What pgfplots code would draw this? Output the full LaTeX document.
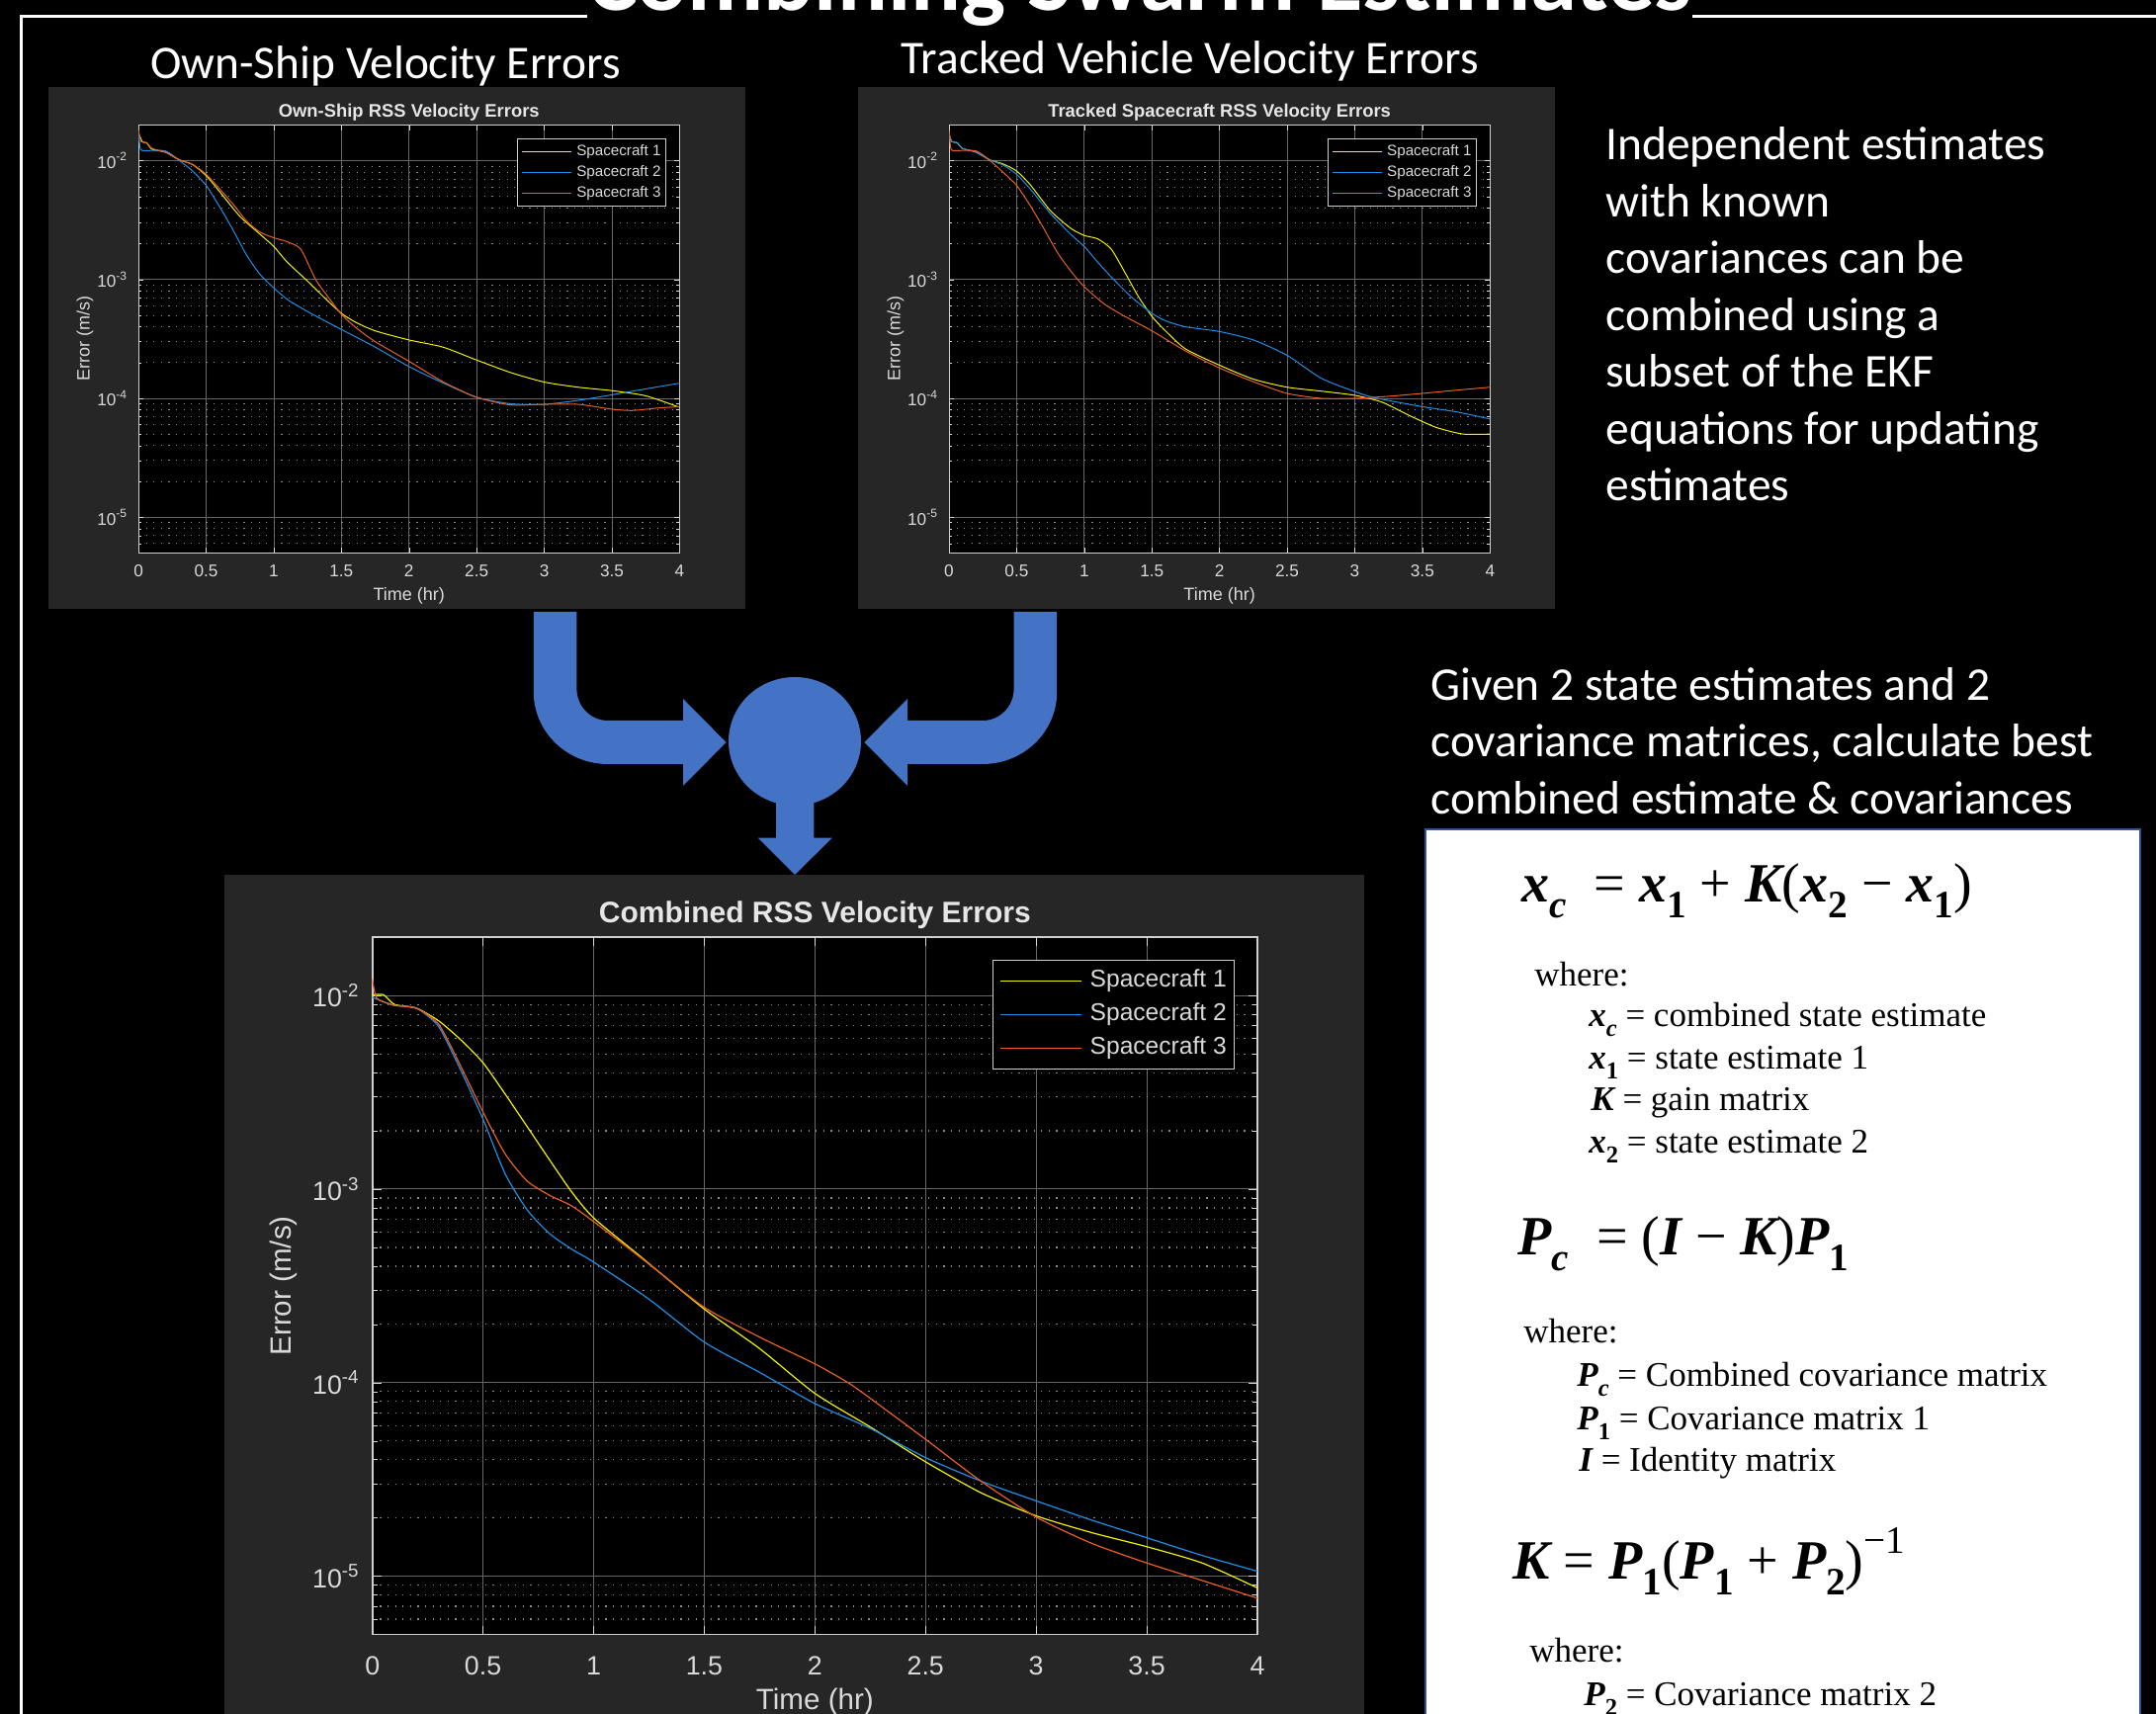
\documentclass[border=0pt]{standalone}
\usepackage{fontspec}
\setmainfont{Carlito}
\newfontfamily\arial{Liberation Sans}
\newfontfamily\tms{Liberation Serif}
\usepackage{graphicx}
\usepackage{pgfplots}
\pgfplotsset{compat=1.18}
\definecolor{panel}{HTML}{262626}
\definecolor{arrowblue}{HTML}{4472C4}
\definecolor{boxblue}{HTML}{2F5597}
\definecolor{scy}{HTML}{F2F200}
\definecolor{scb}{HTML}{1F8FE5}
\definecolor{sco}{HTML}{EB5F23}
\definecolor{gridcol}{HTML}{666666}
\definecolor{mgridcol}{HTML}{8C8C8C}
\definecolor{axcol}{HTML}{CFCFCF}
\definecolor{lblcol}{HTML}{D9D9D9}
\definecolor{ttlcol}{HTML}{E6E6E6}
\newcommand\fsz[1]{\fontsize{#1}{#1}\selectfont}
\newcommand\bi[1]{{\bfseries\itshape #1}}
\newcommand\bsub[1]{\raisebox{-0.28em}{\scalebox{0.7}{#1}}}
\newcommand\bsup[1]{\raisebox{0.48em}{\scalebox{0.7}{#1}}}
\pgfplotsset{
  mlbase/.style={
    scale only axis, xmin=0, xmax=4, ymin=5e-6, ymax=2e-2,
    axis background/.style={fill=black},
    xtick={0,0.5,1,1.5,2,2.5,3,3.5,4},
    xticklabels={0,0.5,1,1.5,2,2.5,3,3.5,4},
    ytick={1e-5,1e-4,1e-3,1e-2},
    yticklabels={10\textsuperscript{-5},10\textsuperscript{-4},10\textsuperscript{-3},10\textsuperscript{-2}},
    minor ytick={6e-6,7e-6,8e-6,9e-6,2e-5,3e-5,4e-5,5e-5,6e-5,7e-5,8e-5,9e-5,2e-4,3e-4,4e-4,5e-4,6e-4,7e-4,8e-4,9e-4,2e-3,3e-3,4e-3,5e-3,6e-3,7e-3,8e-3,9e-3},
    xmajorgrids, ymajorgrids, yminorgrids,
    major grid style={draw=gridcol, solid},
    minor grid style={draw=mgridcol, dash pattern=on 0.6pt off 3.2pt},
    tick align=inside,
    tick style={draw=lblcol},
    axis line style={draw=axcol},
    xticklabel pos=bottom, yticklabel pos=left,
    ticklabel style={text=lblcol},
    label style={text=lblcol},
    title style={text=ttlcol},
    legend cell align=left,
    legend entries={Spacecraft 1,Spacecraft 2,Spacecraft 3},
  },
  smallax/.style={
    mlbase, width=273.65pt, height=216.4pt,
    major tick length=2.6pt, minor tick length=1.5pt,
    axis line style={line width=0.5pt},
    major grid style={line width=0.4pt},
    minor grid style={line width=0.45pt},
    xticklabel style={font=\arial\fsz{8.6}, anchor=center, inner sep=0pt, yshift=-9.15pt},
    yticklabel style={font=\arial\fsz{8.6}, anchor=east, inner sep=0pt, xshift=-5.3pt},
    title style={font=\arial\bfseries\fsz{9.2}, at={(axis description cs:0.5,1.0335)}, anchor=center, yshift=-7pt},
    xlabel style={font=\arial\fsz{9}, at={(axis description cs:0.5,-0.1)}, anchor=center},
    ylabel style={font=\arial\fsz{9}, at={(axis description cs:-0.0987,0.5)}, anchor=center},
    legend style={at={(1,1)}, anchor=north east, xshift=-6.9pt, yshift=-6.9pt,
      fill=black, draw=axcol, line width=0.4pt, text=lblcol, font=\arial\fsz{7.6},
      inner xsep=2.3pt, inner ysep=3.1pt, row sep=3.35pt,
      nodes={inner sep=0pt, text height=5.5pt, text depth=1.5pt},
      /tikz/every odd column/.append style={column sep=2.3pt}},
    legend image code/.code={\draw[##1] (0pt,0pt) -- (25pt,0pt);},
  },
  bigax/.style={
    mlbase, width=447.65pt, height=352.6pt,
    major tick length=4.5pt, minor tick length=2.5pt,
    axis line style={line width=0.85pt},
    major grid style={line width=0.5pt},
    minor grid style={line width=0.6pt},
    xticklabel style={font=\arial\fsz{13.4}, anchor=center, inner sep=0pt, yshift=-15.75pt},
    yticklabel style={font=\arial\fsz{13.4}, anchor=east, inner sep=0pt, xshift=-6.35pt},
    title style={font=\arial\bfseries\fsz{15}, at={(axis description cs:0.5,1.035)}, anchor=center, yshift=-7pt},
    xlabel style={font=\arial\fsz{14.8}, at={(axis description cs:0.5,-0.0975)}, anchor=center},
    ylabel style={font=\arial\fsz{14.8}, at={(axis description cs:-0.1002,0.5)}, anchor=center},
    legend style={at={(1,1)}, anchor=north east, xshift=-11.65pt, yshift=-11.35pt,
      fill=black, draw=axcol, line width=0.5pt, text=lblcol, font=\arial\fsz{12.3},
      inner xsep=3.7pt, inner ysep=4.8pt, row sep=5.6pt,
      nodes={inner sep=0pt, text height=8.9pt, text depth=2.5pt},
      /tikz/every odd column/.append style={column sep=3.8pt}},
    legend image code/.code={\draw[##1] (0pt,0pt) -- (41pt,0pt);},
  },
}
\begin{document}
\begin{tikzpicture}[x=0.5pt,y=0.5pt]
\useasboundingbox (0,0) rectangle (2181,1734);
\clip (0,0) rectangle (2181,1734);
\fill[black] (0,0) rectangle (2181,1734);
% frame
\draw[white, line width=1.2pt] (21.5,-5) -- (21.5,1717.5) -- (2190,1717.5);
% title
\node[anchor=base, text=white, fill=black, inner sep=0pt, font=\bfseries\fsz{47.5}] at (1153,1723) {Combining Swarm Estimates};
% subtitles
\node[anchor=base, text=white, font=\fsz{23.7}] at (390,1654) {Own-Ship Velocity Errors};
\node[anchor=base, text=white, font=\fsz{23.7}] at (1204,1659) {Tracked Vehicle Velocity Errors};
% right paragraph
\begin{scope}[every node/.style={anchor=base west, text=white, font=\fsz{23.75}, inner sep=0pt}]
\node at (1624,1572) {Independent estimates};
\node at (1624,1514.5) {with known};
\node at (1624,1457) {covariances can be};
\node at (1624,1399.5) {combined using a};
\node at (1624,1342) {subset of the EKF};
\node at (1624,1284.5) {equations for updating};
\node at (1624,1227) {estimates};
\node at (1447,1025.7) {Given 2 state estimates and 2};
\node at (1447,968.2) {covariance matrices, calculate best};
\node at (1447,910.7) {combined estimate \& covariances};
\end{scope}
% panels
\fill[panel] (49,1118) rectangle (754,1646);
\fill[panel] (868,1118) rectangle (1573,1646);
\fill[panel] (227,-5) rectangle (1380,849);
\draw[fill=white, draw=boxblue, line width=1pt] (1442,-10) rectangle (2165,894.5);
% arrows
\fill[arrowblue] (539.8,1115) -- (539.8,1034) .. controls (539.8,993.7) and (573.4,961) .. (614.8,961) -- (691,961) -- (691,939) -- (734.6,983) -- (691,1027) -- (691,1005) -- (614.8,1005) .. controls (597.5,1005) and (583.4,1019.3) .. (583.4,1037) -- (583.4,1115) -- cycle;
\fill[arrowblue] (1069.2,1115) -- (1069.2,1034) .. controls (1069.2,993.7) and (1035.6,961) .. (994.2,961) -- (918,961) -- (918,939) -- (874.4,983) -- (918,1027) -- (918,1005) -- (994.2,1005) .. controls (1011.5,1005) and (1025.6,1019.3) .. (1025.6,1037) -- (1025.6,1115) -- cycle;
\fill[arrowblue] (804,984) ellipse [x radius=33.5pt, y radius=32.5pt];
\fill[arrowblue] (785,940) -- (785,886.3) -- (766.7,886.3) -- (804,849) -- (841.8,886.3) -- (823.4,886.3) -- (823.4,940) -- cycle;
% equations
\begin{scope}[every node/.style={anchor=base west, text=black, inner sep=0pt}]
\node[font=\tms\fsz{28}] at (1539,821) {\bi{x}\bsub{\bi{c}}\ \ =\ \bi{x}\bsub{\textbf{1}}\ +\ \bi{K}(\bi{x}\bsub{\textbf{2}}\ −\ \bi{x}\bsub{\textbf{1}})};
\node[font=\tms\fsz{17.5}] at (1552,736) {where:};
\node[font=\tms\fsz{17.5}] at (1607,695) {\bi{x}\bsub{\bi{c}}\ = combined state estimate};
\node[font=\tms\fsz{17.5}] at (1607,652) {\bi{x}\bsub{\textbf{1}}\ = state estimate 1};
\node[font=\tms\fsz{17.5}] at (1609,610) {\bi{K} = gain matrix};
\node[font=\tms\fsz{17.5}] at (1607,567) {\bi{x}\bsub{\textbf{2}}\ = state estimate 2};
\node[font=\tms\fsz{28}] at (1535,464) {\bi{P}\bsub{\bi{c}}\ \ =\ (\bi{I}\ −\ \bi{K})\bi{P}\bsub{\textbf{1}}};
\node[font=\tms\fsz{17.5}] at (1541,375) {where:};
\node[font=\tms\fsz{17.5}] at (1595,331) {\bi{P}\bsub{\bi{c}}\ = Combined covariance matrix};
\node[font=\tms\fsz{17.5}] at (1595,287) {\bi{P}\bsub{\textbf{1}} = Covariance matrix 1};
\node[font=\tms\fsz{17.5}] at (1597,245) {\bi{I} = Identity matrix};
\node[font=\tms\fsz{28}] at (1530,136) {\bi{K} = \bi{P}\bsub{\textbf{1}}(\bi{P}\bsub{\textbf{1}}\ +\ \bi{P}\bsub{\textbf{2}})\bsup{−1}};
\node[font=\tms\fsz{17.5}] at (1547,52) {where:};
\node[font=\tms\fsz{17.5}] at (1602,8) {\bi{P}\bsub{\textbf{2}}\ = Covariance matrix 2};
\end{scope}
% Own-ship plot
\begin{semilogyaxis}[smallax, at={(70.05pt,587.35pt)}, anchor=south west,
  title={Own-Ship RSS Velocity Errors}, xlabel={Time (hr)}, ylabel={Error (m/s)}]
\addplot[scy, line width=0.5pt, smooth, tension=0.4] coordinates {(0,0.017)(0.03,0.0144)(0.06,0.0142)(0.1,0.0125)(0.2,0.0118)(0.3,0.0102)(0.4,0.0093)(0.5,0.0075)(0.6,0.0055)(0.75,0.0034)(0.9,0.0024)(1.0,0.0019)(1.1,0.0014)(1.25,0.00097)(1.4,0.00066)(1.5,0.00052)(1.6,0.00044)(1.75,0.00037)(2.0,0.00031)(2.25,0.00027)(2.5,0.00021)(2.75,0.000165)(3.0,0.000137)(3.25,0.000124)(3.5,0.000116)(3.75,0.000105)(4.0,0.000084)};
\addplot[scb, line width=0.5pt, smooth, tension=0.4] coordinates {(0,0.017)(0.015,0.0125)(0.05,0.0122)(0.2,0.0121)(0.3,0.0101)(0.4,0.0082)(0.5,0.0062)(0.6,0.0041)(0.7,0.0026)(0.8,0.0016)(0.9,0.0011)(1.0,0.00085)(1.1,0.00068)(1.2,0.00058)(1.3,0.0005)(1.5,0.00038)(1.75,0.00027)(2.0,0.000185)(2.25,0.000135)(2.5,0.000102)(2.75,0.00009)(3.0,0.000089)(3.25,0.000096)(3.5,0.000107)(3.75,0.00012)(4.0,0.000134)};
\addplot[sco, line width=0.5pt, smooth, tension=0.4] coordinates {(0,0.018)(0.02,0.0145)(0.06,0.0142)(0.1,0.0127)(0.2,0.0118)(0.3,0.0102)(0.4,0.0093)(0.5,0.0077)(0.6,0.0058)(0.7,0.0043)(0.8,0.0031)(0.9,0.0025)(1.0,0.00225)(1.1,0.00208)(1.2,0.0018)(1.31,0.001)(1.42,0.00067)(1.5,0.00051)(1.6,0.0004)(1.75,0.0003)(2.0,0.000205)(2.25,0.000138)(2.5,0.000102)(2.75,0.000088)(3.0,0.000089)(3.25,0.000089)(3.5,0.000081)(3.65,0.000079)(3.85,0.000083)(4.0,0.000085)};
\end{semilogyaxis}
% Tracked plot
\begin{semilogyaxis}[smallax, at={(480pt,587.35pt)}, anchor=south west,
  title={Tracked Spacecraft RSS Velocity Errors}, xlabel={Time (hr)}, ylabel={Error (m/s)}]
\addplot[scy, line width=0.5pt, smooth, tension=0.4] coordinates {(0,0.017)(0.02,0.0145)(0.06,0.0142)(0.1,0.0127)(0.2,0.0118)(0.3,0.0102)(0.4,0.0094)(0.5,0.0082)(0.6,0.0063)(0.75,0.0038)(0.9,0.0027)(1.0,0.00235)(1.1,0.0022)(1.2,0.0018)(1.3,0.00115)(1.4,0.00072)(1.5,0.00049)(1.6,0.00037)(1.75,0.00026)(2.0,0.00019)(2.25,0.000145)(2.5,0.000124)(2.75,0.000115)(3.0,0.000106)(3.2,0.000093)(3.4,0.000072)(3.6,0.000057)(3.8,0.00005)(4.0,0.00005)};
\addplot[scb, line width=0.5pt, smooth, tension=0.4] coordinates {(0,0.017)(0.02,0.0145)(0.06,0.0142)(0.1,0.0127)(0.2,0.0118)(0.3,0.0102)(0.4,0.0092)(0.5,0.0077)(0.6,0.0058)(0.75,0.0036)(0.9,0.0024)(1.0,0.0019)(1.1,0.0014)(1.2,0.00105)(1.35,0.00071)(1.5,0.00052)(1.6,0.00045)(1.75,0.0004)(2.0,0.000365)(2.25,0.00031)(2.5,0.00023)(2.75,0.000148)(3.0,0.000114)(3.15,0.000101)(3.5,0.000085)(3.75,0.000077)(4.0,0.000067)};
\addplot[sco, line width=0.5pt, smooth, tension=0.4] coordinates {(0,0.018)(0.015,0.0125)(0.05,0.0122)(0.2,0.0121)(0.3,0.0101)(0.4,0.008)(0.5,0.0062)(0.6,0.0042)(0.7,0.0027)(0.8,0.0017)(0.9,0.00118)(1.0,0.00087)(1.15,0.00062)(1.3,0.00049)(1.5,0.00037)(1.75,0.00025)(2.0,0.00018)(2.25,0.000138)(2.5,0.00011)(2.75,0.0001)(3.0,0.0001)(3.25,0.000104)(3.5,0.00011)(3.75,0.000117)(4.0,0.000124)};
\end{semilogyaxis}
% Combined plot
\begin{semilogyaxis}[bigax, at={(188.35pt,40.25pt)}, anchor=south west,
  title={Combined RSS Velocity Errors}, xlabel={Time (hr)}, ylabel={Error (m/s)}]
\addplot[scy, line width=0.6pt, smooth, tension=0.4] coordinates {(0,0.0101)(0.05,0.0101)(0.1,0.009)(0.2,0.0086)(0.3,0.0074)(0.4,0.0059)(0.5,0.0045)(0.6,0.0031)(0.7,0.0021)(0.8,0.00142)(0.9,0.00097)(1.0,0.00071)(1.2,0.00046)(1.5,0.00024)(1.75,0.00015)(2.0,0.000088)(2.25,0.000059)(2.5,0.000039)(2.75,0.000027)(3.0,0.0000205)(3.25,0.0000168)(3.5,0.0000142)(3.75,0.0000117)(4.0,0.0000087)};
\addplot[scb, line width=0.6pt, smooth, tension=0.4] coordinates {(0,0.0098)(0.05,0.0093)(0.1,0.0089)(0.2,0.0086)(0.3,0.0069)(0.4,0.0041)(0.5,0.0023)(0.6,0.0012)(0.7,0.00078)(0.8,0.00059)(0.9,0.00049)(1.0,0.00042)(1.25,0.00027)(1.5,0.000162)(1.75,0.000113)(2.0,0.000078)(2.25,0.000058)(2.5,0.000041)(2.75,0.000031)(3.0,0.0000245)(3.25,0.0000195)(3.5,0.0000158)(3.75,0.0000128)(4.0,0.0000106)};
\addplot[sco, line width=0.6pt, smooth, tension=0.4] coordinates {(0,0.0122)(0.02,0.0097)(0.1,0.0089)(0.2,0.0086)(0.3,0.0071)(0.4,0.0043)(0.5,0.0025)(0.6,0.00152)(0.7,0.0011)(0.8,0.00093)(0.9,0.00082)(1.0,0.00068)(1.25,0.00041)(1.5,0.000245)(1.75,0.000172)(2.0,0.000125)(2.15,0.0001)(2.25,0.000083)(2.5,0.000051)(2.75,0.000031)(3.0,0.0000202)(3.25,0.0000148)(3.5,0.0000117)(3.75,0.0000095)(4.0,0.0000077)};
\end{semilogyaxis}
\end{tikzpicture}
\end{document}
